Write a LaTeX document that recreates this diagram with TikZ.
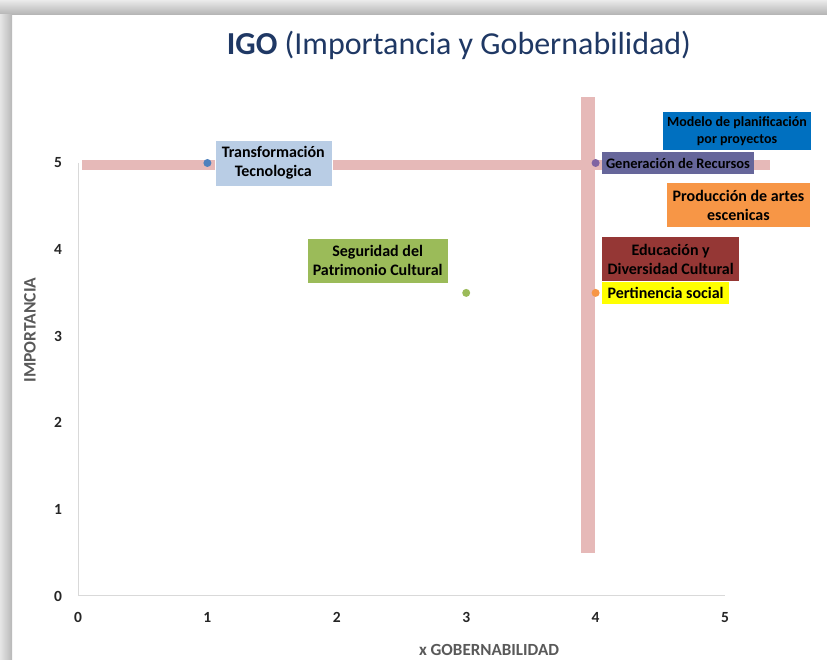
\documentclass[tikz,border=0pt]{standalone}
\usepackage{fontspec}
\setmainfont{Carlito}
\usetikzlibrary{positioning}

\definecolor{rosa}{HTML}{E6B9B8}
\definecolor{ejes}{HTML}{D9D9D9}
\definecolor{titulo}{HTML}{1F3864}
\definecolor{gristxt}{HTML}{595959}
\definecolor{azulclaro}{HTML}{B9CDE5}
\definecolor{azul}{HTML}{0070C0}
\definecolor{morado}{HTML}{66669A}
\definecolor{naranja}{HTML}{F79646}
\definecolor{verde}{HTML}{9BBB59}
\definecolor{granate}{HTML}{953735}
\definecolor{amarillo}{HTML}{FFFF00}
\definecolor{ptazul}{HTML}{4F81BD}
\definecolor{ptmorado}{HTML}{8064A2}

\tikzset{
  etiq/.style={font=\bfseries\fontsize{16}{19}\selectfont, align=center, text=black, inner xsep=5.5pt, inner ysep=7pt},
  punto/.style={circle, inner sep=0pt, minimum size=8pt},
  marca/.style={font=\bfseries\fontsize{15.5}{17}\selectfont, text=black!85},
}

\begin{document}
\begin{tikzpicture}[x=1pt,y=1pt]
  \useasboundingbox (0,0) rectangle (827,660);

  % Ombre du cadre
  \shade[top color=black!8, bottom color=black!30] (0,645) rectangle (827,660);
  \shade[left color=black!10, right color=black!28] (0,0) rectangle (12,645);

  % Titre
  \node[text=titulo, font=\fontsize{32}{36}\selectfont] (titre) at (459,615)
    {\textbf{IGO} (Importancia y Gobernabilidad)};

  % Titres des axes
  \node[text=gristxt, font=\bfseries\fontsize{17.5}{20}\selectfont, rotate=90] (ytit) at (30,330) {IMPORTANCIA};
  \node[text=gristxt, font=\bfseries\fontsize{17}{20}\selectfont] (xtit) at (489,10) {x GOBERNABILIDAD};

  \begin{scope}[shift={(78,64)}, x=129.4pt, y=86.6pt]
    % Tracer les axes
    \draw[ejes, line width=1pt] (0,5) -- (0,0) -- (5,0);
    \foreach \i in {0,...,5} {
      \node[marca] (ty\i) at (-0.155,\i) {\i};
      \node[marca] (tx\i) at (\i,-0.245) {\i};
    }

    % Bandes roses
    \fill[rosa] (0.03,4.92) rectangle (5.35,5.035);
    \fill[rosa] (3.887,0.497) rectangle (3.995,5.762);

    % Points
    \node[punto, fill=ptazul] (p1) at (1,5) {};
    \node[punto, fill=ptmorado] (p2) at (4,5) {};
    \node[punto, fill=verde] (p3) at (3,3.5) {};
    \node[punto, fill=naranja] (p4) at (4,3.5) {};

    % Etiquettes
    \node[etiq, fill=azul, font=\bfseries\fontsize{14}{16.5}\selectfont, inner xsep=4pt, inner ysep=4.5pt] (modelo) at (5.093,5.37)
      {Modelo de planificación\\por proyectos};
    \node[etiq, fill=azulclaro, draw=white, right=3pt of p1, inner xsep=7pt, inner ysep=6.5pt] (transf)
      {Transformación\\Tecnologica};
    \node[etiq, fill=morado, font=\bfseries\fontsize{14.5}{17}\selectfont, inner xsep=4pt, inner ysep=5.5pt, right=2pt of p2] (gener)
      {Generación de Recursos};
    \node[etiq, fill=naranja] (produc) at (5.104,4.515)
      {Producción de artes\\escenicas};
    \node[etiq, fill=verde, draw=white, above left=7pt and 15pt of p3] (segur)
      {Seguridad del\\Patrimonio Cultural};
    \node[etiq, fill=amarillo, inner ysep=5.5pt, right=2pt of p4] (pertin)
      {Pertinencia social};
    \node[etiq, fill=granate, above right=0pt and 0pt of pertin.north west] (educ)
      {Educación y\\Diversidad Cultural};
  \end{scope}
\end{tikzpicture}
\end{document}
